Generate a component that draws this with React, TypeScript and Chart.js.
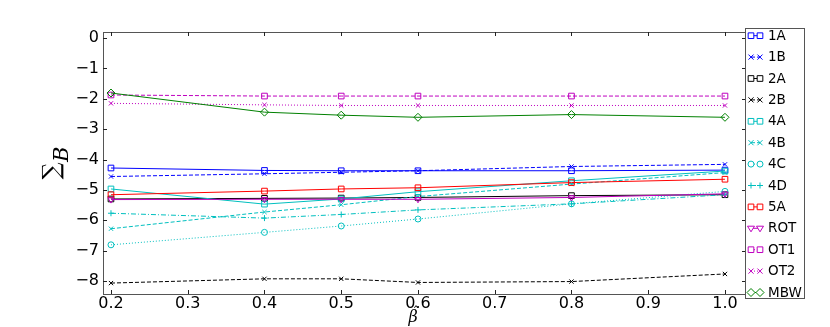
import React, { useEffect, useRef } from 'react';
import { Chart, registerables } from 'chart.js';

Chart.register(...registerables);

// ---------------- data ----------------
const betas = [0.2, 0.4, 0.5, 0.6, 0.8, 1.0];
const xTickValues = [0.2, 0.3, 0.4, 0.5, 0.6, 0.7, 0.8, 0.9, 1.0];
const yTickValues = [0, -1, -2, -3, -4, -5, -6, -7, -8];

const names = ['1A', '1B', '2A', '2B', '4A', '4B', '4C', '4D', '5A', 'ROT', 'OT1', 'OT2', 'MBW'];

const v1A = [-4.28, -4.36, -4.37, -4.37, -4.37, -4.35];
const v1B = [-4.56, -4.47, -4.42, -4.37, -4.23, -4.16];
const v2A = [-5.3, -5.28, -5.27, -5.25, -5.19, -5.16];
const v2B = [-8.07, -7.93, -7.93, -8.05, -8.02, -7.77];
const v4A = [-4.97, -5.47, -5.3, -5.06, -4.7, -4.38];
const v4B = [-6.28, -5.73, -5.49, -5.22, -4.81, -4.43];
const v4C = [-6.81, -6.4, -6.19, -5.96, -5.46, -5.05];
const v4D = [-5.77, -5.93, -5.81, -5.66, -5.46, -5.16];
const v5A = [-5.16, -5.04, -4.97, -4.93, -4.76, -4.65];
const vROT = [-5.32, -5.31, -5.31, -5.31, -5.25, -5.13];
const vOT1 = [-1.875, -1.91, -1.91, -1.91, -1.91, -1.91];
const vOT2 = [-2.15, -2.2, -2.22, -2.22, -2.22, -2.22];
const vMBW = [-1.81, -2.44, -2.54, -2.61, -2.52, -2.61];

const seriesValues = [v1A, v1B, v2A, v2B, v4A, v4B, v4C, v4D, v5A, vROT, vOT1, vOT2, vMBW];

// ---------------- styles ----------------
const BLUE = '#0000ff';
const BLACK = '#000000';
const CYAN = '#00bfbf';
const RED = '#ff0000';
const MAGENTA = '#bf00bf';
const GREEN = '#008000';

const SOLID: number[] = [];
const DASHED = [4, 2];
const DOTTED = [1, 2];
const DASHDOT = [5, 2, 1, 2];

type Style = { color: string; dash: number[]; marker: string; radius: number; rotation: number };
const styles: Style[] = [
  { color: BLUE, dash: SOLID, marker: 'rect', radius: 4, rotation: 0 },
  { color: BLUE, dash: DASHED, marker: 'crossRot', radius: 3, rotation: 0 },
  { color: BLACK, dash: SOLID, marker: 'rect', radius: 4, rotation: 0 },
  { color: BLACK, dash: DASHED, marker: 'crossRot', radius: 3, rotation: 0 },
  { color: CYAN, dash: SOLID, marker: 'rect', radius: 4, rotation: 0 },
  { color: CYAN, dash: DASHED, marker: 'crossRot', radius: 3, rotation: 0 },
  { color: CYAN, dash: DOTTED, marker: 'circle', radius: 3, rotation: 0 },
  { color: CYAN, dash: DASHDOT, marker: 'cross', radius: 3, rotation: 0 },
  { color: RED, dash: SOLID, marker: 'rect', radius: 4, rotation: 0 },
  { color: MAGENTA, dash: SOLID, marker: 'triangle', radius: 3.5, rotation: 180 },
  { color: MAGENTA, dash: DASHED, marker: 'rect', radius: 4, rotation: 0 },
  { color: MAGENTA, dash: DOTTED, marker: 'crossRot', radius: 3, rotation: 0 },
  { color: GREEN, dash: SOLID, marker: 'rectRot', radius: 4, rotation: 0 },
];

const SANS = '"DejaVu Sans", sans-serif';
const SERIF = '"DejaVu Serif", serif';

function drawMarker(ctx: CanvasRenderingContext2D, st: Style, x: number, y: number) {
  const r = st.radius;
  ctx.save();
  ctx.strokeStyle = st.color;
  ctx.fillStyle = '#ffffff';
  ctx.lineWidth = 1;
  ctx.setLineDash([]);
  ctx.beginPath();
  switch (st.marker) {
    case 'rect': {
      const s = r * Math.SQRT1_2;
      ctx.rect(x - s, y - s, 2 * s, 2 * s);
      ctx.fill();
      ctx.stroke();
      break;
    }
    case 'rectRot': {
      ctx.moveTo(x, y - r);
      ctx.lineTo(x + r, y);
      ctx.lineTo(x, y + r);
      ctx.lineTo(x - r, y);
      ctx.closePath();
      ctx.fill();
      ctx.stroke();
      break;
    }
    case 'circle': {
      ctx.arc(x, y, r, 0, Math.PI * 2);
      ctx.fill();
      ctx.stroke();
      break;
    }
    case 'cross': {
      ctx.moveTo(x - r, y);
      ctx.lineTo(x + r, y);
      ctx.moveTo(x, y - r);
      ctx.lineTo(x, y + r);
      ctx.stroke();
      break;
    }
    case 'crossRot': {
      const s = r * Math.SQRT1_2 * 1.2;
      ctx.moveTo(x - s, y - s);
      ctx.lineTo(x + s, y + s);
      ctx.moveTo(x - s, y + s);
      ctx.lineTo(x + s, y - s);
      ctx.stroke();
      break;
    }
    case 'triangle': {
      const h = r;
      ctx.moveTo(x - h, y - h * 0.6);
      ctx.lineTo(x + h, y - h * 0.6);
      ctx.lineTo(x, y + h);
      ctx.closePath();
      ctx.fill();
      ctx.stroke();
      break;
    }
  }
  ctx.restore();
}

const framePlugin = {
  id: 'framePlugin',
  afterDraw(chart: any) {
    const ctx: CanvasRenderingContext2D = chart.ctx;
    const { left, right, top, bottom } = chart.chartArea;
    const xs = chart.scales.x;
    const ys = chart.scales.y;
    ctx.save();
    // spines
    ctx.strokeStyle = '#555555';
    ctx.lineWidth = 1;
    ctx.setLineDash([]);
    ctx.strokeRect(Math.round(left) + 0.5, Math.round(top) + 0.5, Math.round(right - left), Math.round(bottom - top));
    // inward ticks
    ctx.strokeStyle = '#222222';
    const TL = 4;
    ctx.beginPath();
    for (const v of xTickValues) {
      const px = Math.round(xs.getPixelForValue(v)) + 0.5;
      ctx.moveTo(px, bottom);
      ctx.lineTo(px, bottom - TL);
      ctx.moveTo(px, top);
      ctx.lineTo(px, top + TL);
    }
    for (const v of yTickValues) {
      const py = Math.round(ys.getPixelForValue(v)) + 0.5;
      ctx.moveTo(left, py);
      ctx.lineTo(left + TL, py);
      ctx.moveTo(right, py);
      ctx.lineTo(right - TL, py);
    }
    ctx.stroke();

    // y axis title: sum_B rotated
    ctx.save();
    ctx.translate(53, 171);
    ctx.rotate(-Math.PI / 2);
    ctx.fillStyle = '#000000';
    ctx.textBaseline = 'middle';
    ctx.textAlign = 'center';
    ctx.font = `24px ${SERIF}`;
    ctx.fillText('\u2211', 0, 0);
    ctx.font = `italic 21px ${SERIF}`;
    ctx.textAlign = 'left';
    ctx.fillText('B', 9, 10);
    ctx.restore();

    // x axis title: beta with hat
    ctx.fillStyle = '#000000';
    ctx.font = `italic 16px ${SERIF}`;
    ctx.textAlign = 'center';
    ctx.textBaseline = 'middle';
    ctx.fillText('\u03B2', 413, 318);
    ctx.font = `13px ${SERIF}`;
    ctx.fillText('\u02C6', 416, 313);

    // legend
    const bx = 745.5, by = 28.5, bw = 59, bh = 270;
    ctx.fillStyle = '#ffffff';
    ctx.fillRect(bx, by, bw, bh);
    ctx.strokeStyle = '#555555';
    ctx.strokeRect(bx, by, bw, bh);
    names.forEach((name, i) => {
      const st = styles[i];
      const y = 35.7 + 21.4 * i;
      ctx.save();
      ctx.strokeStyle = st.color;
      ctx.lineWidth = 1;
      ctx.setLineDash(st.dash);
      ctx.beginPath();
      ctx.moveTo(751, y);
      ctx.lineTo(760, y);
      ctx.stroke();
      ctx.restore();
      drawMarker(ctx, st, 751, y);
      drawMarker(ctx, st, 760, y);
      ctx.fillStyle = '#000000';
      ctx.font = `13.5px ${SANS}`;
      ctx.textAlign = 'left';
      ctx.textBaseline = 'middle';
      ctx.fillText(name, 768, y + 0.5);
    });
    ctx.restore();
  },
};

export default function App() {
  const ref = useRef<HTMLCanvasElement | null>(null);
  useEffect(() => {
    if (!ref.current) return;
    const datasets = names.map((name, i) => {
      const st = styles[i];
      return {
        label: name,
        data: betas.map((b, j) => ({ x: b, y: seriesValues[i][j] })),
        borderColor: st.color,
        backgroundColor: '#ffffff',
        borderWidth: 1,
        borderDash: st.dash,
        pointStyle: st.marker,
        pointRadius: st.radius,
        pointRotation: st.rotation,
        pointBorderColor: st.color,
        pointBackgroundColor: 'rgba(255,255,255,0)',
        pointBorderWidth: 1,
        tension: 0,
        fill: false,
        order: names.length - i,
      };
    });
    const chart = new Chart(ref.current, {
      type: 'line',
      data: { datasets },
      options: {
        animation: false,
        responsive: false,
        devicePixelRatio: 1,
        layout: { padding: { top: 32, right: 84, left: 0, bottom: 0 } },
        plugins: { legend: { display: false }, tooltip: { enabled: false } },
        scales: {
          x: {
            type: 'linear',
            min: 0.1896,
            max: 1.0274,
            grid: { display: false, drawTicks: false, tickLength: 0 },
            border: { display: false },
            afterBuildTicks: (s: any) => {
              s.ticks = xTickValues.map((v) => ({ value: v }));
            },
            afterFit: (s: any) => {
              s.height = 33;
            },
            ticks: {
              autoSkip: false,
              maxRotation: 0,
              padding: 0,
              color: '#000000',
              font: { family: SANS, size: 16 },
              callback: (v: any) => Number(v).toFixed(1),
            },
          },
          y: {
            type: 'linear',
            min: -8.43,
            max: 0.2,
            grid: { display: false, drawTicks: false, tickLength: 0 },
            border: { display: false },
            afterBuildTicks: (s: any) => {
              s.ticks = yTickValues.map((v) => ({ value: v }));
            },
            afterFit: (s: any) => {
              s.width = 103;
            },
            ticks: {
              autoSkip: false,
              padding: 4,
              color: '#000000',
              font: { family: SANS, size: 16 },
              callback: (v: any) => (Number(v) === 0 ? '0' : '\u2212' + Math.abs(Number(v))),
            },
          },
        },
      },
      plugins: [framePlugin],
    } as any);
    return () => chart.destroy();
  }, []);
  return (
    <div style={{ position: 'absolute', left: 0, top: 0, width: 830, height: 327, background: '#fff' }}>
      <canvas ref={ref} width={830} height={327} style={{ width: 830, height: 327, display: 'block' }} />
    </div>
  );
}
